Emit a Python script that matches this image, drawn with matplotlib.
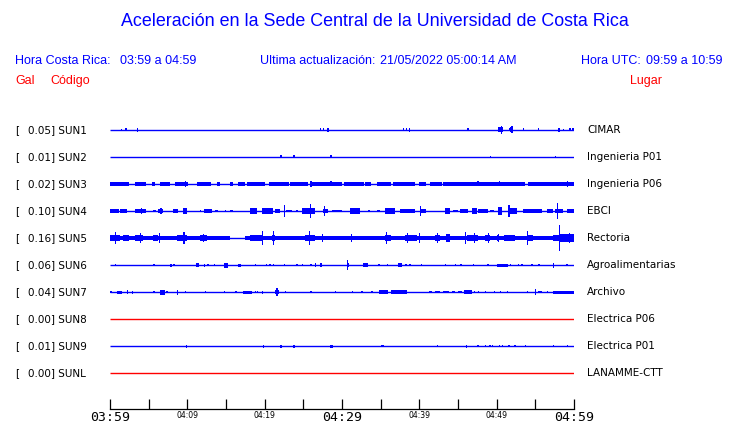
import matplotlib
matplotlib.use("Agg")
import matplotlib.pyplot as plt

# -----------------------------------------------------------------------
# Data
# -----------------------------------------------------------------------
codes = ["SUN1", "SUN2", "SUN3", "SUN4", "SUN5",
         "SUN6", "SUN7", "SUN8", "SUN9", "SUNL"]
gains = ["0.05", "0.01", "0.02", "0.10", "0.16",
         "0.06", "0.04", "0.00", "0.01", "0.00"]
places = ["CIMAR", "Ingenieria P01", "Ingenieria P06", "EBCI", "Rectoria",
          "Agroalimentarias", "Archivo", "Electrica P06", "Electrica P01",
          "LANAMME-CTT"]

tick_minutes = [0, 5, 10, 15, 20, 25, 30, 35, 40, 45, 50, 55, 60]
tick_labels = ["03:59", "", "04:09", "", "04:19", "", "04:29",
               "", "04:39", "", "04:49", "", "04:59"]
big_labels = ["03:59", "04:29", "04:59"]

# bursts per trace: (start minute, end minute, half amplitude in px)
sun1 = [(1.4, 1.4, 1.2), (2.0, 2.0, 1.5), (3.5, 3.5, 2), (27.1, 27.1, 1.5),
        (27.5, 27.5, 1.5), (28.1, 28.1, 2), (37.9, 37.9, 1.5), (38.3, 38.3, 1.5),
        (38.6, 38.8, 2), (46.2, 46.2, 1.5), (50.2, 50.8, 2.5), (50.5, 50.5, 4),
        (51.6, 51.6, 1.5), (51.7, 52.1, 2.5), (51.9, 51.9, 3.5), (53.4, 53.4, 1.5),
        (55.3, 55.3, 1.5), (57.9, 58.2, 2), (58.6, 58.6, 1), (59.4, 59.4, 1.5),
        (59.8, 59.9, 1.5)]
sun2 = [(22.0, 22.2, 1.5), (23.7, 23.7, 1.5), (28.5, 28.7, 1.5),
        (49.1, 49.1, 1), (57.5, 57.5, 1)]
sun3 = [(0, 2.4, 1.8), (3.2, 4.7, 1.8), (5.4, 5.8, 1.8), (6.5, 7.8, 1.8),
        (8.4, 10.1, 1.8), (11.2, 13.1, 1.8), (13.8, 14.2, 1.8), (15.5, 15.9, 1.8),
        (16.6, 17.5, 1.8), (17.7, 20.0, 1.8), (20.5, 23.1, 1.8), (23.3, 25.6, 1.8),
        (26.1, 30.0, 1.8), (30.2, 32.8, 1.8), (33.0, 33.8, 1.8), (34.5, 36.4, 1.8),
        (36.6, 39.4, 1.8), (39.9, 40.9, 1.8), (41.4, 42.9, 1.8), (43.1, 53.7, 1.8),
        (54.1, 60.0, 1.8), (9.7, 9.7, 3), (25.9, 25.9, 3), (28.5, 28.5, 2.5),
        (47.5, 47.5, 2.5), (50.3, 50.3, 2.5), (59.1, 59.1, 3)]
sun4 = [(0, 1.1, 1.7), (1.3, 2.2, 2), (3.2, 4.7, 2), (4.0, 4.0, 2.7),
        (5.6, 6.0, 1.3), (6.2, 6.9, 2), (6.5, 6.5, 3), (8.2, 8.8, 2),
        (9.5, 9.9, 3.3), (11.6, 11.8, 1.2), (12.1, 13.2, 1.7), (13.6, 14.0, 1.2),
        (14.9, 14.9, 1.2), (15.5, 15.9, 1.3), (18.1, 19.0, 2.7), (19.6, 21.1, 3.3),
        (21.3, 22.0, 1.7), (22.5, 22.5, 5.7), (22.8, 23.5, 1.3), (24.1, 24.1, 1.2),
        (24.8, 26.5, 2.7), (25.8, 25.8, 6.7), (27.6, 28.2, 2), (27.7, 27.7, 5),
        (28.7, 30.0, 1.3), (31.0, 32.3, 2.7), (33.4, 33.4, 1.2), (34.5, 34.9, 1.3),
        (35.6, 36.9, 3.3), (37.5, 39.4, 1.7), (40.1, 40.1, 4.7), (40.1, 40.9, 2),
        (43.3, 44.0, 2.7), (44.4, 45.0, 1.3), (45.3, 46.3, 2), (46.8, 47.4, 3),
        (47.6, 48.9, 1.7), (49.1, 49.6, 1.3), (50.2, 50.7, 4), (51.5, 51.5, 5.7),
        (51.5, 52.6, 3), (53.4, 55.8, 1.7), (56.5, 57.3, 2), (57.8, 57.8, 8.3),
        (57.5, 58.6, 2), (59.1, 60.0, 1.7)]
sun5 = [(0, 15.5, 1.7), (17.5, 60, 1.7),
        (0, 1.3, 3.3), (0.65, 0.65, 5.7), (1.7, 2.4, 2.7), (3.2, 4.3, 2.7),
        (3.9, 3.9, 5), (5.6, 6.2, 2.7), (6.3, 6.3, 5), (8.0, 8.2, 2),
        (8.6, 9.9, 3.3), (9.5, 9.5, 5.7), (10.3, 10.8, 1.3), (11.6, 12.5, 2.7),
        (12.0, 12.0, 4.3), (18.1, 19.8, 3.3), (19.6, 19.6, 6.7), (20.9, 21.3, 3.3),
        (21.1, 21.1, 6.7), (21.8, 22.6, 1.7), (22.8, 25.2, 1.7), (25.2, 26.5, 3.3),
        (25.7, 25.7, 6.7), (26.9, 27.8, 2.3), (27.4, 27.4, 4.3), (28.7, 30.4, 1.3),
        (30.8, 31.7, 2.3), (31.1, 31.1, 4), (32.1, 35.6, 1.7), (35.6, 36.4, 3.3),
        (35.7, 35.7, 5.7), (38.1, 39.7, 2.7), (38.4, 38.4, 5), (39.9, 39.9, 5.3),
        (40.7, 41.6, 1.7), (42.0, 42.7, 2.7), (42.3, 42.3, 5), (43.5, 44.0, 4.3),
        (44.8, 45.9, 2), (45.9, 45.9, 6), (46.1, 47.6, 2.7), (47.1, 47.1, 5),
        (48.5, 49.1, 3.3), (48.9, 48.9, 5), (50.0, 50.2, 2.7), (50.2, 50.2, 4),
        (50.9, 52.4, 2.7), (52.0, 52.0, 3.3), (53.9, 53.9, 7.3), (53.9, 54.7, 3.3),
        (55.4, 56.7, 2), (57.3, 58.0, 3.3), (58.0, 58.0, 12.7), (58.2, 60, 4),
        (59.3, 59.3, 4.7)]
sun6 = [(0.65, 0.65, 1.2), (5.5, 5.8, 1.3), (7.8, 7.8, 1.5), (8.2, 8.2, 1.2),
        (11.1, 11.5, 1.7), (12.1, 12.3, 1.5), (12.6, 12.6, 1.2), (13.45, 13.45, 1.3),
        (14.8, 15.2, 2.5), (16.6, 17.0, 1.5), (18.7, 18.7, 0.8), (20.2, 20.2, 1.2),
        (20.6, 20.6, 1), (21.1, 21.1, 1), (22.5, 22.5, 1), (24.1, 24.1, 1.3),
        (24.8, 24.8, 1), (25.9, 25.9, 1.3), (26.5, 26.5, 1.7), (27.2, 27.2, 1.7),
        (30.6, 30.6, 5), (30.6, 30.9, 2), (32.7, 33.4, 1.7), (34.6, 34.9, 1.3),
        (35.8, 35.8, 1.2), (37.3, 37.7, 1.7), (38.2, 38.2, 1.3), (38.7, 38.7, 1.3),
        (40.2, 40.2, 0.8), (43.3, 43.3, 1.3), (44.6, 44.6, 1.2), (45.3, 45.3, 1.3),
        (46.9, 46.9, 1), (48.8, 48.8, 1), (50.0, 51.5, 1.5), (51.7, 51.7, 1.2),
        (52.7, 52.7, 1.3), (53.2, 53.2, 1.2), (54.4, 54.7, 1.3), (55.3, 55.6, 1.3),
        (57.3, 57.3, 2.5), (59.0, 59.0, 1)]
sun7 = [(0, 0.2, 1.3), (0.86, 1.5, 1.5), (2.2, 2.2, 2.3), (2.8, 2.8, 1.5),
        (5.6, 5.6, 1), (6.5, 7.1, 2.5), (7.3, 7.5, 1.3), (8.6, 8.8, 2.5),
        (9.7, 9.7, 1), (12.3, 12.3, 1), (14.7, 14.7, 1.2), (16.2, 16.2, 0.8),
        (17.2, 18.3, 1.5), (18.75, 18.75, 1.2), (18.97, 18.97, 1.2), (19.6, 19.6, 1.5),
        (21.5, 21.5, 4), (21.3, 21.9, 2), (22.6, 22.6, 1), (25.9, 25.9, 1),
        (29.1, 29.1, 1.3), (31.25, 31.25, 1), (32.5, 32.5, 0.8), (33.8, 33.8, 1),
        (34.8, 36.0, 2), (36.4, 38.4, 2), (41.2, 41.6, 1.3), (42.0, 42.7, 1.3),
        (43.1, 43.8, 1.3), (44.2, 44.6, 1.2), (45.0, 45.5, 1.3), (45.8, 46.8, 2),
        (47.1, 47.1, 1), (47.6, 47.6, 1), (48.5, 48.5, 1.3), (49.6, 49.6, 1),
        (50.4, 50.4, 1.2), (51.3, 51.3, 1.3), (53.9, 53.9, 1.3), (54.9, 54.9, 3),
        (55.4, 55.8, 1), (56.5, 56.5, 1), (57.3, 60, 1.5)]
sun8 = []
sun9 = [(9.8, 9.8, 1.5), (19.8, 19.8, 1.5), (22.0, 22.2, 1.5), (23.7, 23.7, 1.5),
        (28.4, 28.8, 1.5), (35.1, 35.1, 1.2), (35.3, 35.3, 1.2), (42.3, 42.3, 1),
        (46.0, 46.0, 1.5), (47.5, 47.5, 1.2), (48.5, 48.5, 1.3), (49.05, 49.05, 1.3),
        (49.35, 49.35, 1), (50.3, 50.3, 1), (50.65, 50.65, 1.2), (51.5, 51.5, 1),
        (52.3, 52.3, 1), (53.6, 53.6, 1), (57.3, 57.3, 1), (59.1, 59.1, 1)]
sunl = []

traces = [sun1, sun2, sun3, sun4, sun5, sun6, sun7, sun8, sun9, sunl]

# -----------------------------------------------------------------------
# Figure
# -----------------------------------------------------------------------
W, H = 740, 423
BLUE = "#0000ff"
RED = "#ff0000"
HEAD = "Liberation Sans"

fig = plt.figure(figsize=(W / 100, H / 100), dpi=100)
fig.patch.set_facecolor("white")


def px(x, y):
    return x / W, 1 - y / H


def ftext(x, y, s, **kw):
    fx, fy = px(x, y)
    kw.setdefault("va", "center")
    fig.text(fx, fy, s, **kw)


# header
ftext(375, 22, "Aceleración en la Sede Central de la Universidad de Costa Rica",
      ha="center", color=BLUE, fontsize=12.9, family=HEAD)
ftext(15, 61, "Hora Costa Rica:", color=BLUE, fontsize=9, family=HEAD)
ftext(120, 61, "03:59 a 04:59", color=BLUE, fontsize=9, family=HEAD)
ftext(260, 61, "Ultima actualización:", color=BLUE, fontsize=9, family=HEAD)
ftext(380, 61, "21/05/2022 05:00:14 AM", color=BLUE, fontsize=9, family=HEAD)
ftext(581, 61, "Hora UTC:", color=BLUE, fontsize=9, family=HEAD)
ftext(646, 61, "09:59 a 10:59", color=BLUE, fontsize=9, family=HEAD)
ftext(15, 81, "Gal", color=RED, fontsize=9, family=HEAD)
ftext(50, 81, "Código", color=RED, fontsize=9, family=HEAD)
ftext(630, 81, "Lugar", color=RED, fontsize=9, family=HEAD)

# trace panel: x in minutes, y = trace index (row spacing 27 px)
top_px, bot_px, first_px, step_px = 115, 409, 130, 27
ax = fig.add_axes([110 / W, (H - bot_px) / H, 464 / W, (bot_px - top_px) / H])
ax.set_xlim(0, 60)
ax.set_ylim((bot_px - first_px) / step_px, (top_px - first_px) / step_px)
ax.set_facecolor("none")
for side in ["top", "left", "right"]:
    ax.spines[side].set_visible(False)
ax.spines["bottom"].set_linewidth(0.9)
ax.set_yticks([])
ax.set_xticks(tick_minutes)
ax.set_xticklabels(tick_labels)
ax.tick_params(axis="x", direction="in", length=7.5, width=0.9, pad=1.5)
for lab in ax.get_xticklabels():
    if lab.get_text() in big_labels:
        lab.set_fontsize(9.5)
        lab.set_family("DejaVu Sans Mono")
    else:
        lab.set_fontsize(5.5)
        lab.set_family("DejaVu Sans")

for i, bursts in enumerate(traces):
    color = RED if codes[i] in ("SUN8", "SUNL") else BLUE
    ax.hlines(i, 0, 60, color=color, linewidth=1.0)
    if bursts:
        starts = [b[0] for b in bursts]
        widths = [max(b[1] - b[0], 0.16) for b in bursts]
        amps = [b[2] / step_px for b in bursts]
        ax.bar(starts, [2 * a for a in amps], width=widths,
               bottom=[i - a for a in amps], align="edge",
               color=color, linewidth=0, antialiased=False)

    y = first_px + step_px * i
    ftext(15, y, "[", color="black", fontsize=7.5)
    ftext(28, y, f"{gains[i]}] {codes[i]}", color="black", fontsize=7.5)
    ftext(587, y, places[i], color="black", fontsize=7.5)

fig.savefig("out.png", dpi=100, facecolor="white")
